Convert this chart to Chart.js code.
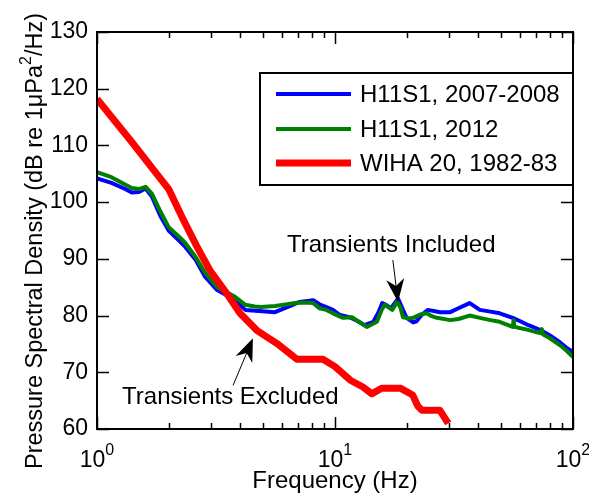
<!DOCTYPE html>
<html>
<head>
<meta charset="utf-8">
<script src="https://cdn.jsdelivr.net/npm/chart.js@4/dist/chart.umd.min.js"></script>
<style>
  html, body { margin: 0; padding: 0; background: #fff; }
  canvas { display: block; }
</style>
</head>
<body>
<canvas id="psd" width="589" height="496"></canvas>
<script>
// Hydrophone H11S1, 2007-2008 (transients included)
const freqH07 = [1.00, 1.15, 1.3, 1.4, 1.5, 1.6, 1.7, 1.85, 2.0, 2.2, 2.35, 2.6, 2.85, 3.2, 3.6, 3.8, 4.2, 4.8, 5.6, 6.3, 7.1, 7.8, 8.1, 8.6, 9.2, 9.8, 10.5, 11.5, 12.5, 13.3, 14.5, 15.2, 15.8, 16.5, 17.2, 18.4, 19.3, 20.0, 21.3, 22.0, 23.0, 24.5, 26.0, 27.6, 30.5, 33.0, 36.8, 40.6, 45, 49.2, 55.8, 60, 65, 72.6, 80, 88, 94, 100];
const psdH07  = [104.2, 103.4, 102.4, 101.7, 101.8, 102.4, 101.0, 97.5, 95.0, 93.3, 92.1, 89.8, 86.8, 84.5, 83.3, 82.7, 81.0, 80.8, 80.6, 81.5, 82.4, 82.6, 82.7, 82.0, 81.5, 81.0, 80.1, 79.7, 79.0, 78.3, 78.9, 80.5, 82.2, 81.8, 81.3, 83.0, 81.0, 79.6, 78.8, 79.0, 80.0, 81.0, 80.8, 80.6, 80.6, 81.3, 82.2, 81.0, 80.7, 80.4, 79.6, 79.0, 78.3, 77.5, 76.5, 75.3, 74.3, 73.6];

// Hydrophone H11S1, 2012
const freqH12 = [1.00, 1.15, 1.3, 1.4, 1.5, 1.6, 1.7, 1.85, 2.0, 2.2, 2.35, 2.6, 2.85, 3.2, 3.55, 3.8, 4.2, 4.6, 4.9, 5.6, 6.3, 6.8, 7.5, 8.1, 8.6, 9.2, 9.8, 10.8, 11.8, 12.7, 13.6, 15.0, 15.7, 16.2, 17.4, 18.2, 18.8, 19.3, 20.5, 21.3, 22.8, 24.3, 25.5, 26.8, 30.5, 33.0, 36.8, 40.6, 45, 49.2, 52, 55.8, 56.3, 56.8, 63, 72.6, 74, 74.6, 80, 88, 94, 100];
const psdH12  = [105.3, 104.4, 103.2, 102.5, 102.3, 102.7, 101.5, 98.3, 95.6, 94.0, 92.8, 90.3, 87.5, 85.0, 84.0, 83.3, 81.9, 81.6, 81.5, 81.7, 82.0, 82.2, 82.3, 82.2, 81.3, 81.0, 80.4, 79.6, 79.7, 78.8, 78.0, 78.9, 81.0, 81.9, 81.0, 82.4, 81.5, 79.7, 79.5, 79.6, 80.2, 80.4, 79.9, 79.6, 79.2, 79.4, 80.0, 79.6, 79.2, 78.9, 78.5, 78.0, 79.2, 78.0, 77.6, 76.9, 77.6, 76.7, 76.0, 74.8, 73.8, 72.7];

// WIHA 20, 1982-83 (transients excluded)
const freqWIHA = [1.0, 1.4, 2.0, 2.3, 2.62, 2.98, 3.51, 3.99, 4.69, 5.69, 6.92, 8.9, 10.0, 11.6, 13.1, 14.3, 15.7, 18.8, 21.2, 22.3, 23.2, 27.6, 29.9];
const psdWIHA  = [118.2, 110.6, 102.3, 97.0, 92.3, 88.0, 83.9, 80.4, 77.4, 75.1, 72.3, 72.3, 71.0, 68.6, 67.4, 66.2, 67.2, 67.2, 66.0, 64.0, 63.3, 63.3, 61.0];

const seriesLabels = ['H11S1, 2007-2008', 'H11S1, 2012', 'WIHA 20, 1982-83'];
const seriesColors = ['#0000ff', '#008000', '#ff0000'];
const seriesWidths = [4, 4, 7];

const yTicks = [60, 70, 80, 90, 100, 110, 120, 130];
const xDecades = [1, 10, 100];
const xDecadeExponents = ['0', '1', '2'];

const xTitle = 'Frequency (Hz)';
const yTitleMain = 'Pressure Spectral Density (dB re 1\u03bcPa';
const yTitleSup = '2';
const yTitleTail = '/Hz)';

const noteIncluded = { text: 'Transients Included', at: [6.28, 92.6], tail: [17.5, 89.8], tip: [18.4, 82.4] };
const noteExcluded = { text: 'Transients Excluded', at: [1.274, 65.8], tail: [3.73, 67.7], tip: [4.52, 76.0] };

const FONT = '"Liberation Sans", Arial, Helvetica, sans-serif';

function pairs(xs, ys) { return xs.map((x, i) => ({ x: x, y: ys[i] })); }

const frame = {
  id: 'frame',
  afterDatasetsDraw(chart) {
    const ctx = chart.ctx;
    const xs = chart.scales.x, ys = chart.scales.y;
    const a = chart.chartArea;
    ctx.save();
    ctx.strokeStyle = '#000';
    ctx.fillStyle = '#000';

    // ticks on all four sides, pointing inward
    ctx.lineWidth = 1.5;
    const major = 12, minor = 6;
    ctx.beginPath();
    yTicks.forEach(v => {
      const py = Math.round(ys.getPixelForValue(v)) + 0.5;
      ctx.moveTo(a.left, py); ctx.lineTo(a.left + major, py);
      ctx.moveTo(a.right, py); ctx.lineTo(a.right - major, py);
    });
    for (let d = 0; d < xDecades.length; d++) {
      for (let m = 1; m <= 9; m++) {
        const f = xDecades[d] * m;
        if (f > xs.max) break;
        const len = m === 1 ? major : minor;
        const px = Math.round(xs.getPixelForValue(f)) + 0.5;
        ctx.moveTo(px, a.bottom); ctx.lineTo(px, a.bottom - len);
        ctx.moveTo(px, a.top); ctx.lineTo(px, a.top + len);
      }
    }
    ctx.stroke();

    // axes box
    ctx.lineWidth = 2;
    ctx.strokeRect(a.left, a.top, a.right - a.left, a.bottom - a.top);

    // x tick labels as powers of ten
    ctx.textBaseline = 'alphabetic';
    ctx.textAlign = 'left';
    xDecades.forEach((f, i) => {
      const px = xs.getPixelForValue(f);
      ctx.font = '23px ' + FONT;
      const wBase = ctx.measureText('10').width;
      ctx.font = '16px ' + FONT;
      const wExp = ctx.measureText(xDecadeExponents[i]).width;
      const x0 = px - (wBase + wExp) / 2;
      ctx.font = '23px ' + FONT;
      ctx.fillText('10', x0, 467);
      ctx.font = '16px ' + FONT;
      ctx.fillText(xDecadeExponents[i], x0 + wBase, 455);
    });

    // x axis title
    ctx.font = '24px ' + FONT;
    ctx.textAlign = 'center';
    ctx.fillText(xTitle, (a.left + a.right) / 2, 488);

    // y axis title (rotated) with superscript
    ctx.save();
    ctx.translate(42, 241);
    ctx.rotate(-Math.PI / 2);
    ctx.font = '23.5px ' + FONT;
    const w1 = ctx.measureText(yTitleMain).width;
    const w3 = ctx.measureText(yTitleTail).width;
    ctx.font = '16px ' + FONT;
    const w2 = ctx.measureText(yTitleSup).width;
    let tx = -(w1 + w2 + w3) / 2;
    ctx.textAlign = 'left';
    ctx.font = '23.5px ' + FONT;
    ctx.fillText(yTitleMain, tx, 0);
    ctx.font = '16px ' + FONT;
    ctx.fillText(yTitleSup, tx + w1, -11);
    ctx.font = '23.5px ' + FONT;
    ctx.fillText(yTitleTail, tx + w1 + w2, 0);
    ctx.restore();

    // legend
    const lx = 260, ly = 73, lw = a.right - 260, lh = 112;
    ctx.fillStyle = '#fff';
    ctx.fillRect(lx, ly, lw, lh);
    ctx.lineWidth = 2;
    ctx.strokeStyle = '#000';
    ctx.strokeRect(lx, ly, lw, lh);
    const rows = [94, 129, 163];
    chart.data.datasets.forEach((ds, i) => {
      ctx.strokeStyle = ds.borderColor;
      ctx.lineWidth = ds.borderWidth;
      ctx.beginPath();
      ctx.moveTo(276, rows[i]); ctx.lineTo(351, rows[i]);
      ctx.stroke();
      ctx.fillStyle = '#000';
      ctx.font = '24px ' + FONT;
      ctx.textAlign = 'left';
      ctx.textBaseline = 'middle';
      ctx.fillText(ds.label, 360, rows[i] + 1);
    });

    // annotations
    [noteIncluded, noteExcluded].forEach(n => {
      ctx.fillStyle = '#000';
      ctx.strokeStyle = '#000';
      ctx.font = '24px ' + FONT;
      ctx.textAlign = 'left';
      ctx.textBaseline = 'middle';
      ctx.fillText(n.text, xs.getPixelForValue(n.at[0]), ys.getPixelForValue(n.at[1]) + 1);
      const tx0 = xs.getPixelForValue(n.tail[0]), ty0 = ys.getPixelForValue(n.tail[1]);
      const tx1 = xs.getPixelForValue(n.tip[0]), ty1 = ys.getPixelForValue(n.tip[1]);
      const dx = tx1 - tx0, dy = ty1 - ty0, len = Math.hypot(dx, dy);
      const ux = dx / len, uy = dy / len, nx = -uy, ny = ux;
      const L = 23, W = 18, notch = 0.3 * L;
      ctx.lineWidth = 1;
      ctx.beginPath();
      ctx.moveTo(tx0, ty0);
      ctx.lineTo(tx1 - ux * (L - notch), ty1 - uy * (L - notch));
      ctx.stroke();
      ctx.beginPath();
      ctx.moveTo(tx1, ty1);
      ctx.lineTo(tx1 - ux * L + nx * W / 2, ty1 - uy * L + ny * W / 2);
      ctx.lineTo(tx1 - ux * (L - notch), ty1 - uy * (L - notch));
      ctx.lineTo(tx1 - ux * L - nx * W / 2, ty1 - uy * L - ny * W / 2);
      ctx.closePath();
      ctx.fill();
    });
    ctx.restore();
  }
};

new Chart(document.getElementById('psd'), {
  type: 'line',
  data: {
    datasets: [
      { label: seriesLabels[0], data: pairs(freqH07, psdH07), borderColor: seriesColors[0], borderWidth: seriesWidths[0], order: 2 },
      { label: seriesLabels[1], data: pairs(freqH12, psdH12), borderColor: seriesColors[1], borderWidth: seriesWidths[1], order: 1 },
      { label: seriesLabels[2], data: pairs(freqWIHA, psdWIHA), borderColor: seriesColors[2], borderWidth: seriesWidths[2], order: 0 }
    ].map(d => Object.assign(d, { pointRadius: 0, tension: 0, fill: false, clip: 0, borderJoinStyle: 'round', borderCapStyle: 'butt' }))
  },
  options: {
    responsive: false,
    animation: false,
    devicePixelRatio: 1,
    layout: { padding: { top: 32, right: 16, left: 0, bottom: 0 } },
    plugins: { legend: { display: false }, tooltip: { enabled: false } },
    scales: {
      x: {
        type: 'logarithmic',
        min: 1, max: 100,
        grid: { display: false },
        border: { display: false },
        ticks: { display: false },
        afterFit(s) { s.height = 67; }
      },
      y: {
        type: 'linear',
        min: 60, max: 130,
        afterBuildTicks(s) { s.ticks = yTicks.map(v => ({ value: v })); },
        grid: { display: false, drawTicks: false },
        border: { display: false },
        ticks: { color: '#000', padding: 9, font: { size: 23, family: FONT } },
        afterFit(s) { s.width = 97; }
      }
    }
  },
  plugins: [frame]
});
</script>
</body>
</html>
